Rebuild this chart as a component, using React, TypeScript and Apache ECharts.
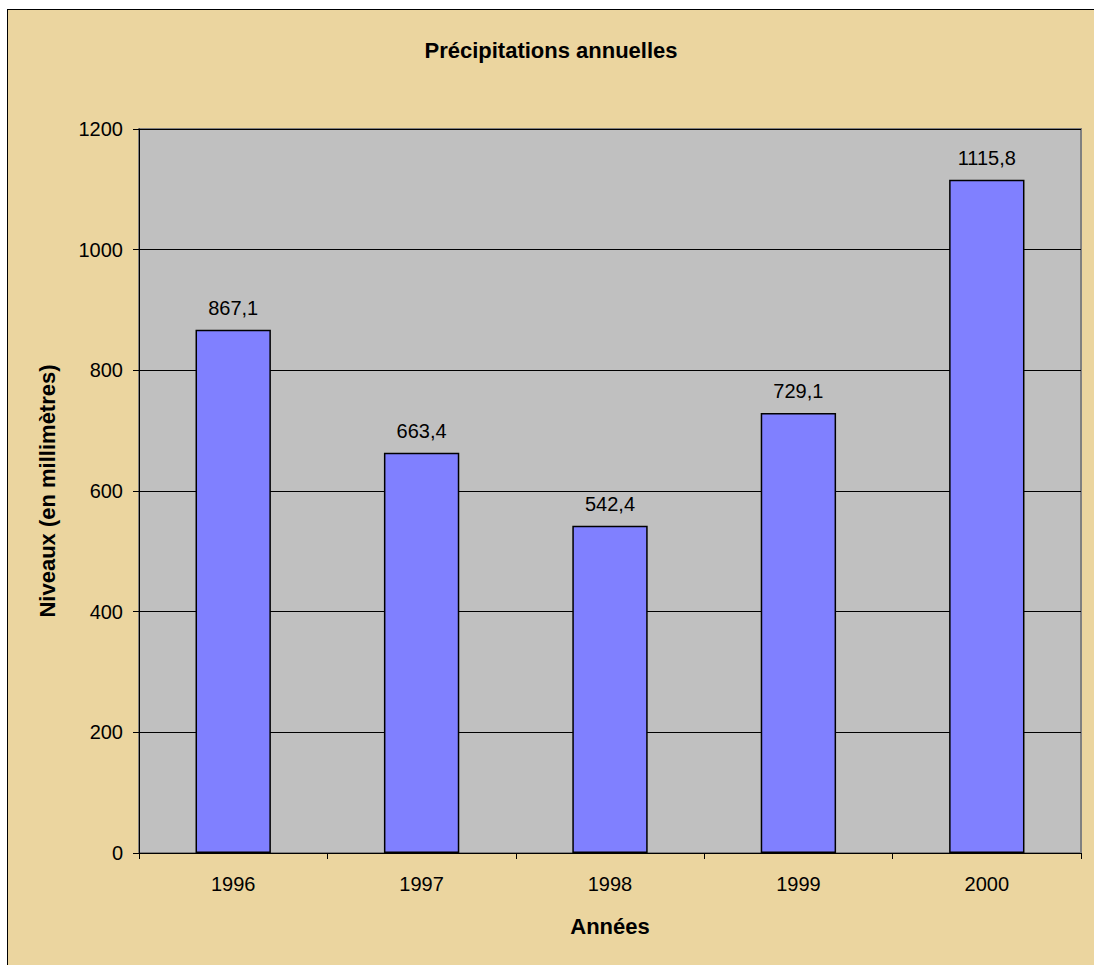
import React, { useEffect, useRef } from "react";
import * as echarts from "echarts";

const years = ["1996", "1997", "1998", "1999", "2000"];
const precip = [867.1, 663.4, 542.4, 729.1, 1115.8];
const titleText = "Précipitations annuelles";
const yName = "Niveaux (en millimètres)";
const xName = "Années";

export default function App() {
  const ref = useRef<HTMLDivElement>(null);
  useEffect(() => {
    if (!ref.current) return;
    const chart = echarts.init(ref.current, null, { renderer: "svg" });
    const font = "'Liberation Sans', Arial, sans-serif";
    chart.setOption({
      animation: false,
      backgroundColor: "#EBD59F",
      textStyle: { fontFamily: font },
      title: {
        text: titleText,
        left: "center",
        top: 24,
        textStyle: { fontFamily: font, fontSize: 22, fontWeight: "bold", color: "#000" },
      },
      grid: {
        left: 131,
        top: 119,
        right: 13,
        bottom: 112,
        show: true,
        backgroundColor: "#C0C0C0",
        borderColor: "#808080",
        borderWidth: 2,
      },
      xAxis: {
        type: "category",
        data: years,
        name: xName,
        nameLocation: "middle",
        nameGap: 62,
        nameTextStyle: { fontFamily: font, fontSize: 22, fontWeight: "bold", color: "#000" },
        axisLine: { lineStyle: { color: "#000", width: 1 } },
        axisTick: { show: true, length: 6, lineStyle: { color: "#000" } },
        axisLabel: { fontFamily: font, fontSize: 20, color: "#000", margin: 21 },
      },
      yAxis: {
        type: "value",
        min: 0,
        max: 1200,
        interval: 200,
        name: yName,
        nameLocation: "middle",
        nameGap: 81,
        nameTextStyle: { fontFamily: font, fontSize: 22, fontWeight: "bold", color: "#000" },
        axisLine: { show: true, lineStyle: { color: "#000", width: 1 } },
        axisTick: { show: true, length: 6, lineStyle: { color: "#000" } },
        axisLabel: {
          fontFamily: font,
          fontSize: 20,
          color: "#000",
          margin: 16,
          formatter: (v: number) => String(v),
        },
        splitLine: { show: true, lineStyle: { color: "#000", width: 1 } },
      },
      series: [
        {
          type: "bar",
          data: precip,
          barWidth: "40%",
          itemStyle: { color: "#8080FF", borderColor: "#000", borderWidth: 1.5 },
          label: {
            show: true,
            position: "top",
            distance: 12,
            fontFamily: font,
            fontSize: 20,
            color: "#000",
            formatter: (p: any) => String(p.value).replace(".", ","),
          },
        },
      ],
    });
    return () => chart.dispose();
  }, []);
  return (
    <div
      style={{
        position: "absolute",
        left: 7,
        top: 9,
        borderLeft: "1px solid #000",
        borderTop: "1px solid #000",
      }}
    >
      <div ref={ref} style={{ width: 1086, height: 955 }} />
    </div>
  );
}
